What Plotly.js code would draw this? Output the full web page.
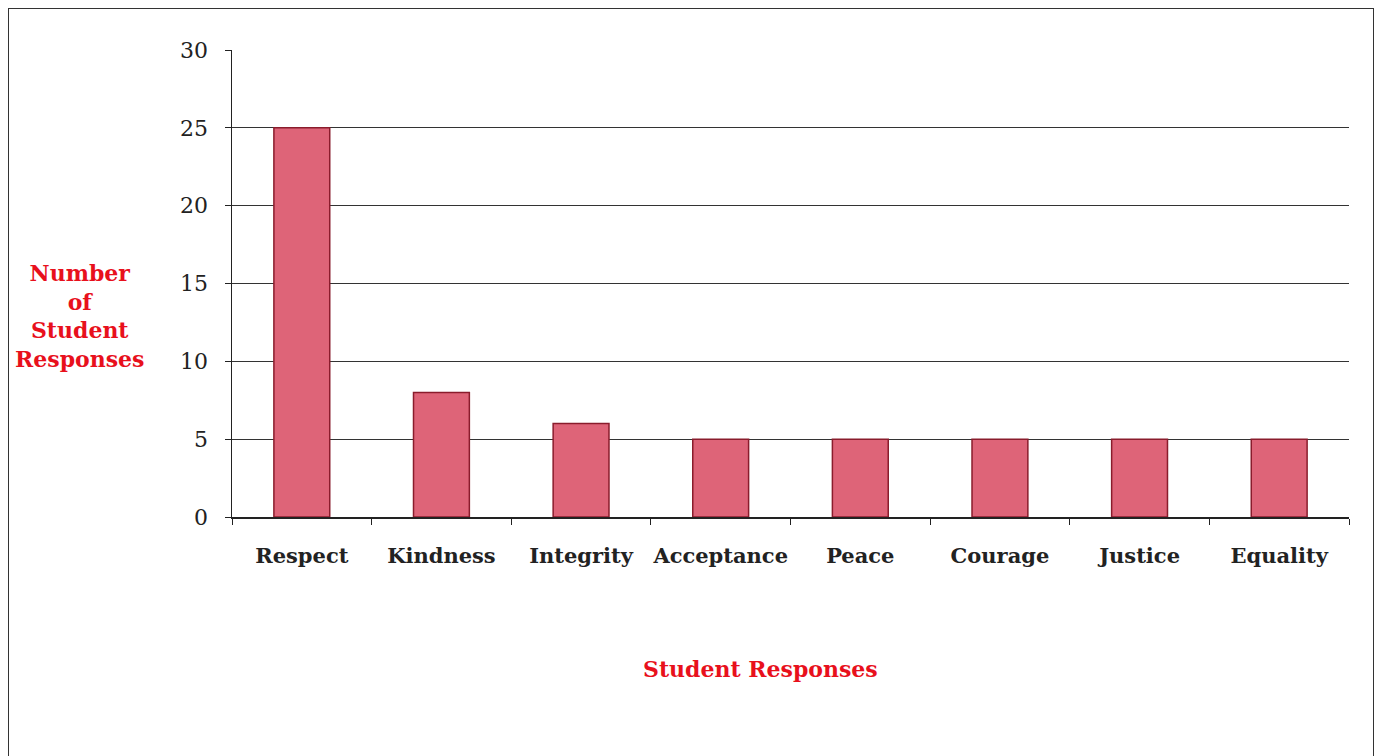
<!DOCTYPE html>
<html>
<head>
<meta charset="utf-8">
<script src="https://cdn.plot.ly/plotly-3.0.1.min.js"></script>
<style>
html,body{margin:0;padding:0;background:#fff;width:1380px;height:756px;overflow:hidden;}
#frame{position:absolute;left:8px;top:8px;width:1366px;height:760px;border:1.5px solid #333;box-sizing:border-box;}
#chart{position:absolute;left:0;top:0;width:1380px;height:756px;}
</style>
</head>
<body>
<div id="frame"></div>
<div id="chart"></div>
<script>
const categories = ["Respect","Kindness","Integrity","Acceptance","Peace","Courage","Justice","Equality"];
const responses = [25, 8, 6, 5, 5, 5, 5, 5];
const yTicks = [0, 5, 10, 15, 20, 25, 30];

const serif = "'DejaVu Serif', 'Liberation Serif', serif";

const trace = {
  type: 'bar',
  x: categories,
  y: responses,
  marker: {
    color: '#de6478',
    line: {color: '#8a1c2c', width: 1.5}
  },
  hoverinfo: 'x+y'
};

const layout = {
  width: 1380,
  height: 756,
  margin: {l: 232, r: 31, t: 50, b: 239},
  paper_bgcolor: 'rgba(0,0,0,0)',
  plot_bgcolor: 'rgba(0,0,0,0)',
  bargap: 0.6,
  showlegend: false,
  font: {family: serif, color: '#222'},
  xaxis: {
    type: 'category',
    tickson: 'boundaries',
    ticks: 'outside',
    ticklen: 6,
    tickcolor: '#222',
    showline: true,
    linecolor: '#222',
    linewidth: 1.5,
    showgrid: false,
    tickangle: 0,
    tickfont: {family: serif, size: 21, color: '#222', weight: 'bold'},
    ticklabelstandoff: 19
  },
  yaxis: {
    range: [0, 30],
    tickvals: yTicks,
    ticks: 'outside',
    ticklen: 6,
    tickcolor: '#222',
    showline: true,
    linecolor: '#222',
    linewidth: 1.5,
    showgrid: true,
    gridcolor: '#333',
    gridwidth: 1.3,
    zeroline: false,
    tickfont: {family: serif, size: 22, color: '#222'},
    ticklabelstandoff: 12
  },
  annotations: [
    {
      text: 'Number<br>of<br>Student<br>Responses',
      xref: 'paper', yref: 'paper',
      x: -0.136, y: 0.43, xanchor: 'center', yanchor: 'middle',
      showarrow: false,
      font: {family: serif, size: 22, color: '#e8101c', weight: 'bold'},
      align: 'center'
    },
    {
      text: 'Student Responses',
      xref: 'paper', yref: 'paper',
      x: 0.473, y: -0.325, xanchor: 'center', yanchor: 'middle',
      showarrow: false,
      font: {family: serif, size: 22, color: '#e8101c', weight: 'bold'}
    }
  ]
};

Plotly.newPlot('chart', [trace], layout, {displayModeBar: false, staticPlot: true});
</script>
</body>
</html>
